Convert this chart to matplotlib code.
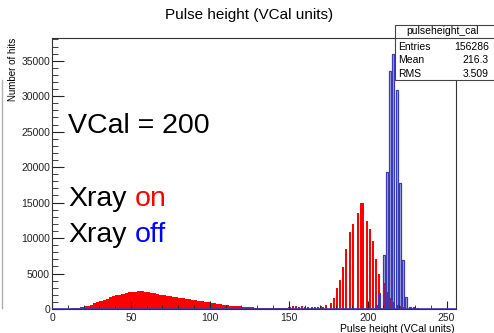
import numpy as np
import matplotlib
matplotlib.use("Agg")
import matplotlib.pyplot as plt
from matplotlib.patches import Rectangle
from matplotlib.lines import Line2D

plt.rcParams['font.family'] = ['Liberation Sans', 'DejaVu Sans']

# ---------------- data ----------------
# broad red (Xray on) part, 2-unit bins starting at 10
low_edges = np.arange(10, 150, 2)
low_counts = [50, 100, 150, 210, 300, 400, 480, 620, 790, 1000,
              1150, 1310, 1440, 1660, 1790, 1960, 2040, 2160, 2230, 2360,
              2390, 2460, 2530, 2470, 2430, 2370, 2310, 2210, 2160, 2040,
              1990, 1890, 1830, 1740, 1660, 1570, 1510, 1440, 1360, 1270,
              1230, 1170, 1110, 1010, 960, 860, 810, 730, 690, 600,
              560, 490, 470, 410, 390, 330, 310, 260, 250, 210,
              200, 170, 170, 140, 150, 120, 140, 110, 130, 120]

# red (Xray on) separate bins near the peak
on_pos = [150.5, 152.5, 154.5, 156.5, 158.5, 160.5, 162.5, 164.5, 166.5, 168.5,
          170.3, 172.0, 173.4, 176.7, 178.8, 180.5, 182.7, 184.6, 186.5, 188.8,
          190.6, 193.7, 195.8, 197.3, 199.6, 201.5, 203.6, 205.5, 207.3, 210.8,
          212.7, 214.6, 216.6, 218.7, 220.6, 222.5, 227.7, 229.7, 231.8]
on_counts = [350, 420, 380, 300, 360, 320, 300, 310, 280, 330,
             400, 300, 500, 900, 1600, 2900, 4100, 5900, 8500, 10900,
             12000, 13600, 15000, 14900, 12400, 11300, 9600, 7100, 4900, 3600,
             2400, 1600, 1000, 560, 400, 350, 300, 300, 100]

# blue (Xray off)
off_pos = [205.5, 207.4, 210.6, 212.5, 214.4, 216.3, 218.4, 220.4, 222.2, 224.2, 226.9]
off_counts = [500, 2200, 7600, 19300, 33500, 36000, 30800, 17700, 6900, 1700, 300]

stat_names = ["Entries", "Mean", "RMS"]
stat_values = ["156286", "216.3", "3.509"]

W, H = 494, 333


def fx(px):
    return px / W


def fy(py):
    return (H - py) / H


#------------------ figure ------------------#
fig = plt.figure(figsize=(W / 100, H / 100), dpi=100)
ax = fig.add_axes([fx(52), fy(309), fx(456) - fx(52), fy(38) - fy(309)])

ax.bar(low_edges, low_counts, width=2, align='edge', color='#ff0000', linewidth=0)
ax.bar(on_pos, on_counts, width=1.3, color='#ff0000', linewidth=0)
ax.bar(off_pos, off_counts, width=1.3, color='#3030a8', alpha=0.36, linewidth=0)
ax.bar(off_pos, off_counts, width=1.3, fill=False, edgecolor='#3a3ab4', linewidth=0.9)
ax.axhline(0, color='#3a3ab4', lw=1.2, zorder=5)

ax.set_xlim(0, 256)
ax.set_ylim(0, 38200)
ax.set_xticks(np.arange(0, 251, 50))
ax.set_xticks(np.arange(0, 256, 10), minor=True)
ax.set_yticks(np.arange(0, 35001, 5000))
ax.set_yticks(np.arange(0, 38001, 1000), minor=True)
ax.tick_params(axis='both', direction='in', labelsize=7.5, colors='#222222',
               top=False, right=False, which='both')
ax.tick_params(axis='x', which='major', length=5.8, pad=3)
ax.tick_params(axis='x', which='minor', length=2.9)
ax.tick_params(axis='y', which='major', length=8.6, pad=1.5)
ax.tick_params(axis='y', which='minor', length=4.3)
for s in ax.spines.values():
    s.set_color('#333333')
    s.set_linewidth(0.8)

# titles / axis labels
fig.text(fx(249.5), fy(15), "Pulse height (VCal units)", ha='center', va='center', fontsize=11)
fig.text(fx(455), fy(329), "Pulse height (VCal units)", ha='right', va='center', fontsize=7.5)
fig.text(fx(12.5), fy(38), "Number of hits", ha='center', va='top', rotation=90, fontsize=7)

# big annotations
fig.text(fx(68), fy(133.3), "VCal = 200", ha='left', va='baseline', fontsize=20.5)
fig.text(fx(68), fy(206), "Xray", ha='left', va='baseline', fontsize=20.5)
fig.text(fx(135), fy(206), "on", ha='left', va='baseline', fontsize=20.5, color='#ff0000')
fig.text(fx(68), fy(241.7), "Xray", ha='left', va='baseline', fontsize=20.5)
fig.text(fx(135), fy(241.7), "off", ha='left', va='baseline', fontsize=20.5, color='#0000ff')

# stat box
fig.add_artist(Rectangle((fx(395), fy(80)), fx(110), fy(25) - fy(80),
                         facecolor='white', edgecolor='#444444', lw=0.8, zorder=10))
fig.add_artist(Line2D([fx(395), fx(500)], [fy(38), fy(38)], color='#444444', lw=0.8, zorder=11))
fig.text(fx(443), fy(31.5), "pulseheight_cal", ha='center', va='center', fontsize=7.5, zorder=12)
for i, (n, v) in enumerate(zip(stat_names, stat_values)):
    y = fy(47 + 13.3 * i)
    fig.text(fx(398), y, n, ha='left', va='center', fontsize=7.5, zorder=12)
    fig.text(fx(489), y, v, ha='right', va='center', fontsize=7.5, zorder=12)

# neighbouring pad edge on the left
fig.add_artist(Line2D([fx(1.5), fx(1.5)], [fy(80), fy(308)], color='#b0b0b0', lw=1))

fig.savefig("out.png", dpi=100)
